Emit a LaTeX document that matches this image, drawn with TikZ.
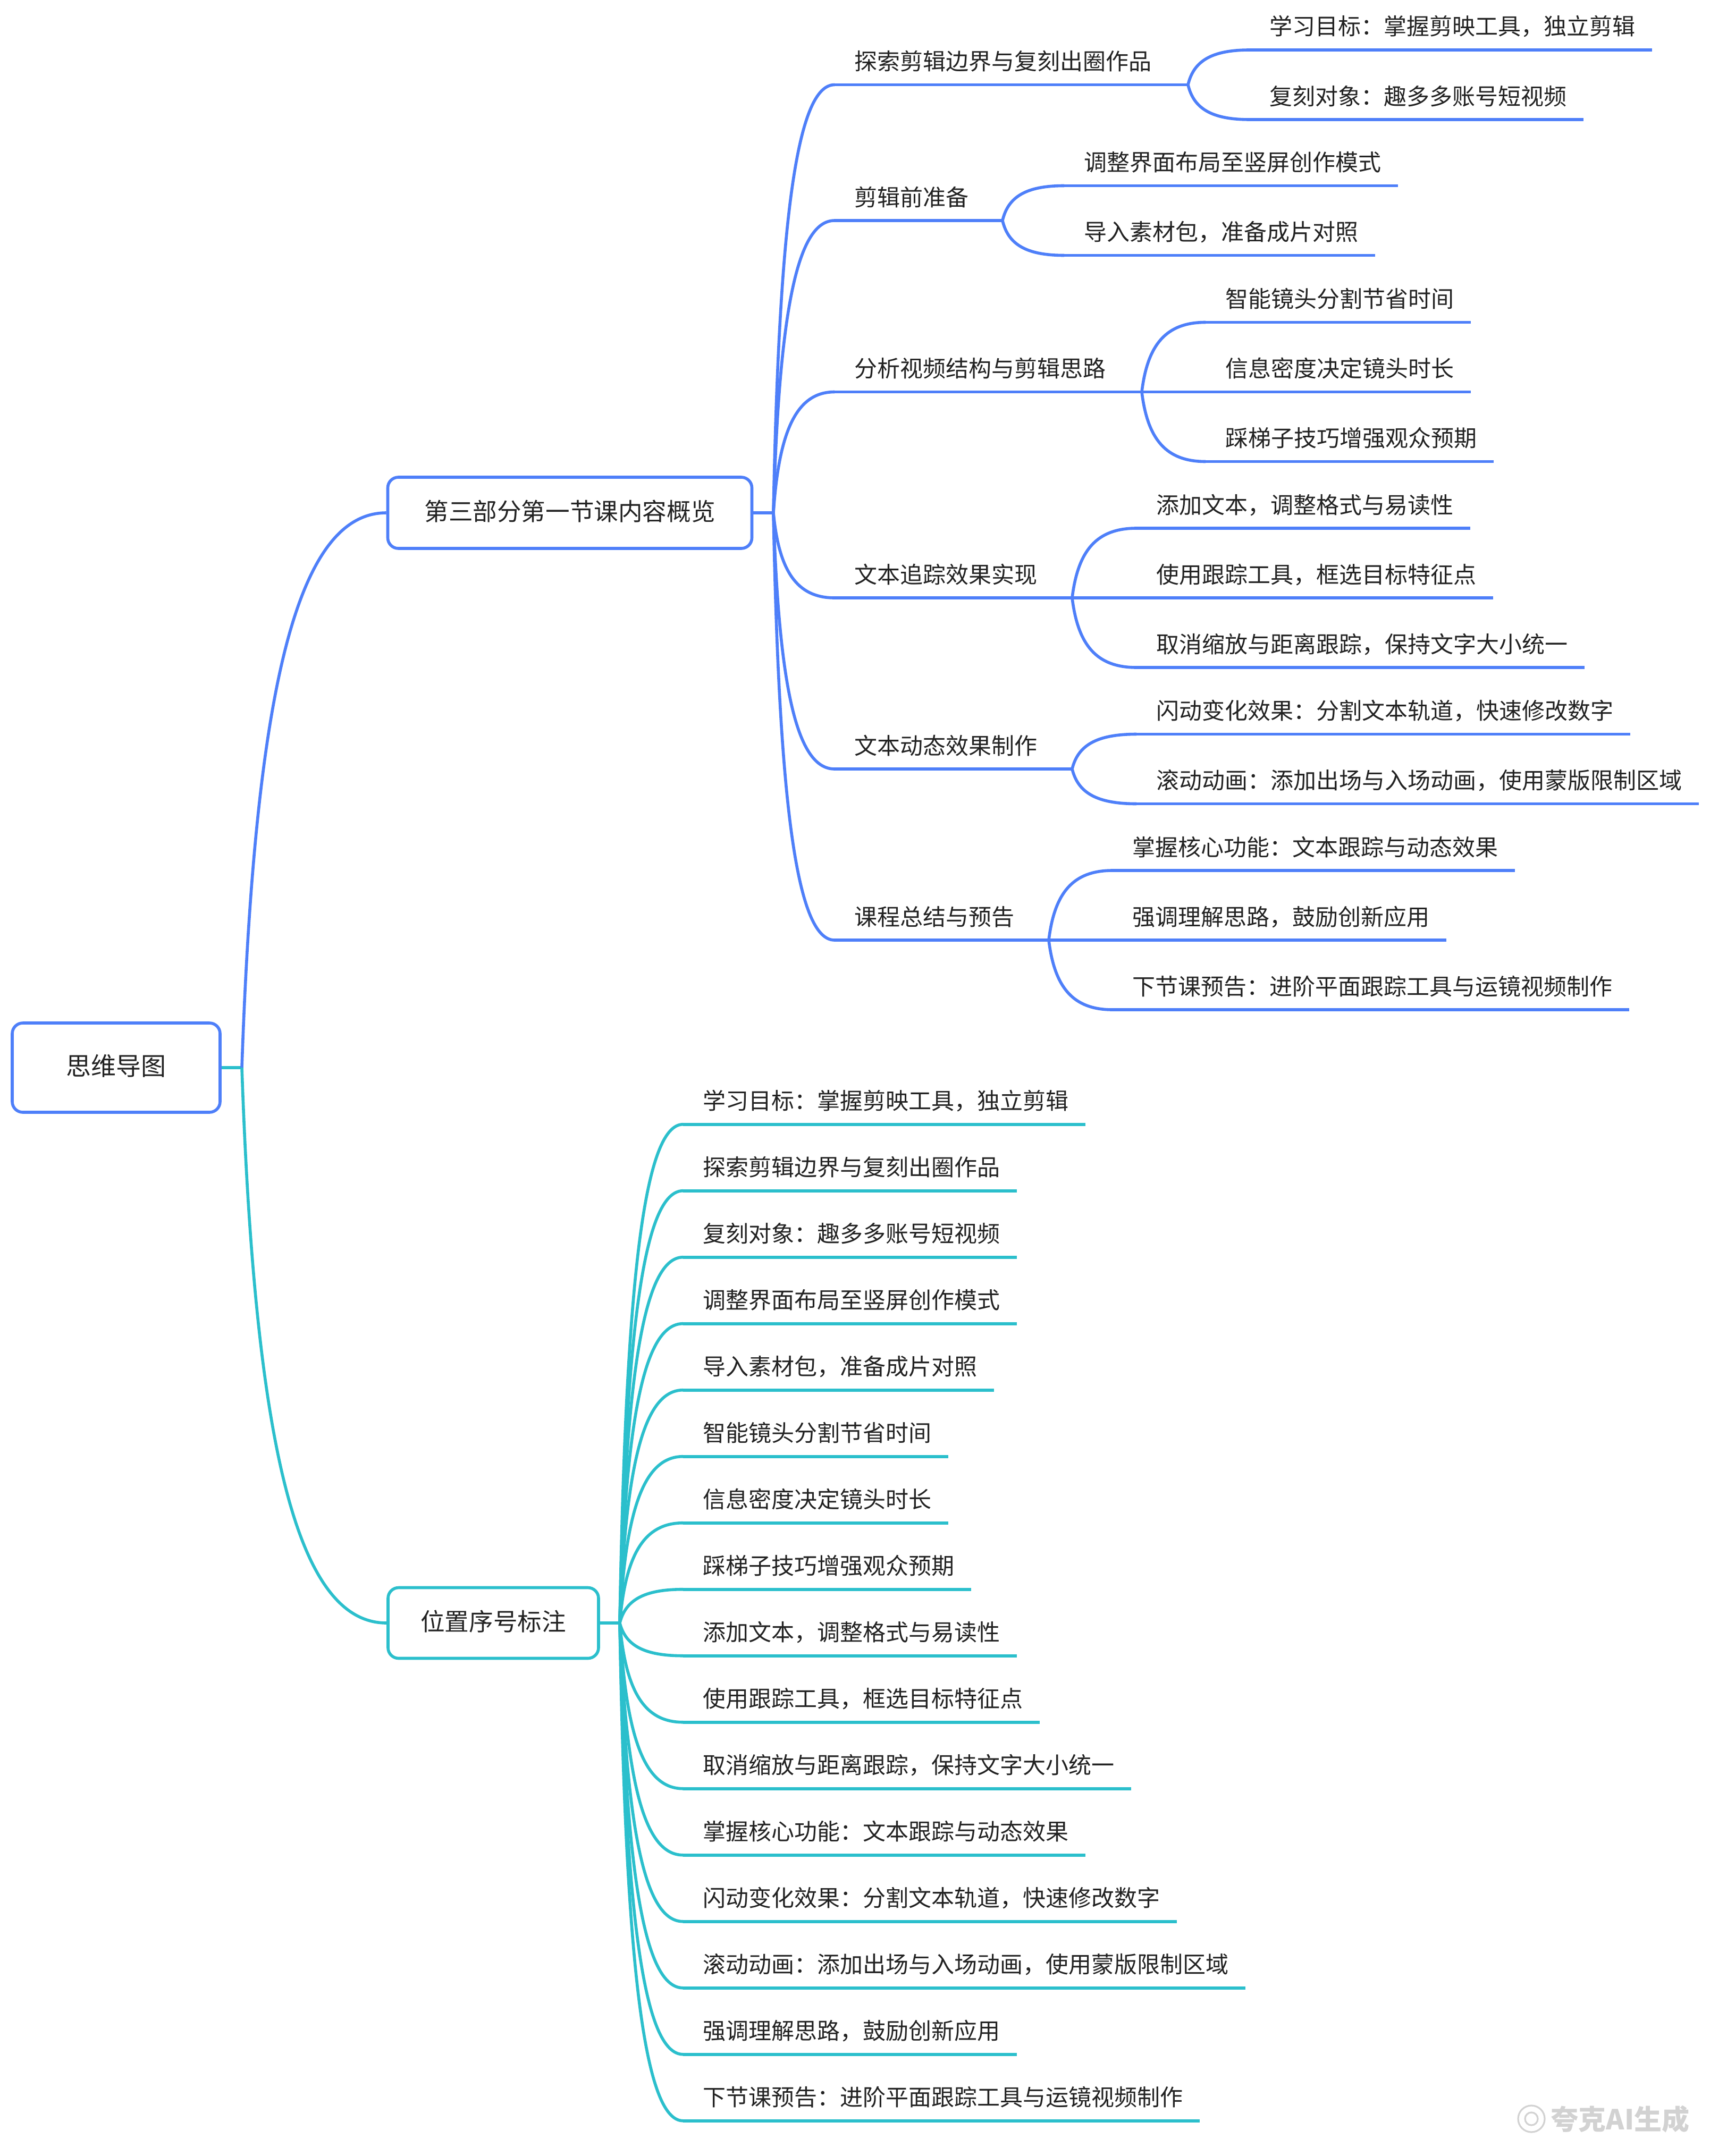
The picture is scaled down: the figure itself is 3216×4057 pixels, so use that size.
\documentclass[tikz,border=0pt]{standalone}
\usepackage{fontspec}
\setmainfont{Noto Sans CJK SC}
\usetikzlibrary{calc}
\definecolor{bluec}{HTML}{4E7FF9}
\definecolor{tealc}{HTML}{2BBFCC}
\definecolor{textc}{HTML}{222222}
\definecolor{wmc}{HTML}{D2D2D2}
\newcommand\mmcurve[3]{\draw[#1] let \p1=(#2), \p2=(#3) in (\p1) .. controls ({\x1+0.09*(\x2-\x1)},{\y2+0.32*(\y1-\y2)}) and ({\x1+0.38*(\x2-\x1)},{\y2}) .. (\p2);}
\newcommand\leafnode[4]{\node[leaf] (#1) at (#2,#3) {\kern9.25pt#4\kern7.5pt\relax};}
\begin{document}
\begin{tikzpicture}[x=0.25pt,y=-0.25pt,
  bl/.style={draw=bluec,line width=1.4pt},
  tl/.style={draw=tealc,line width=1.4pt},
  leaf/.style={anchor=south west,inner xsep=0pt,inner ysep=6.8pt,text height=8pt,text depth=0pt,font=\fontsize{10.75pt}{12pt}\selectfont,text=textc},
  box/.style={rounded corners=5pt,line width=1.4pt,fill=white,inner sep=0pt,text=textc,text height=0.8em,text depth=0.06em,font=\fontsize{11.4pt}{13pt}\selectfont},
]
\fill[white] (0,0) rectangle (3216,4057);
\useasboundingbox (0,0) rectangle (3216,4057);

% main boxes
\node[box,draw=bluec,minimum width=97.75pt,minimum height=42pt,font=\fontsize{11.75pt}{13pt}\selectfont] (root) at (218.5,2009) {思维导图};
\node[box,draw=bluec,minimum width=171.25pt,minimum height=33.5pt] (main) at (1072,965) {第三部分第一节课内容概览};
\node[box,draw=tealc,minimum width=99pt,minimum height=33.25pt] (sec) at (928,3054) {位置序号标注};

\coordinate (rh) at (455,2009);
\coordinate (mh) at (1455,965);
\coordinate (th) at (1166,3054);

\draw[tl] (root.east) -- (rh);
\mmcurve{bl}{rh}{main.west}
\mmcurve{tl}{rh}{sec.west}
\draw[bl] (main.east) -- (mh);
\draw[tl] (sec.east) -- (th);

% level 2 (blue)
\leafnode{b1}{1570}{159.5}{探索剪辑边界与复刻出圈作品}
\leafnode{b2}{1570}{415}{剪辑前准备}
\leafnode{b3}{1570}{737.5}{分析视频结构与剪辑思路}
\leafnode{b4}{1570}{1125}{文本追踪效果实现}
\leafnode{b5}{1570}{1447}{文本动态效果制作}
\leafnode{b6}{1570}{1769}{课程总结与预告}
\coordinate (h1) at (2235,159.5);
\coordinate (h2) at (1886,415);
\coordinate (h3) at (2148,737.5);
\coordinate (h4) at (2017,1125);
\coordinate (h5) at (2017,1447);
\coordinate (h6) at (1973,1769);
\foreach \k in {1,...,6}{
  \mmcurve{bl}{mh}{b\k.south west}
  \draw[bl] (b\k.south west) -- (h\k);
}

% level 3 (blue)
\leafnode{c11}{2351}{94}{学习目标：掌握剪映工具，独立剪辑}
\leafnode{c12}{2351}{225}{复刻对象：趣多多账号短视频}
\leafnode{c21}{2002}{349.5}{调整界面布局至竖屏创作模式}
\leafnode{c22}{2002}{480.5}{导入素材包，准备成片对照}
\leafnode{c31}{2268}{606.5}{智能镜头分割节省时间}
\leafnode{c32}{2268}{737.5}{信息密度决定镜头时长}
\leafnode{c33}{2268}{868.5}{踩梯子技巧增强观众预期}
\leafnode{c41}{2138}{994}{添加文本，调整格式与易读性}
\leafnode{c42}{2138}{1125}{使用跟踪工具，框选目标特征点}
\leafnode{c43}{2138}{1256}{取消缩放与距离跟踪，保持文字大小统一}
\leafnode{c51}{2138}{1381.5}{闪动变化效果：分割文本轨道，快速修改数字}
\leafnode{c52}{2138}{1512.5}{滚动动画：添加出场与入场动画，使用蒙版限制区域}
\leafnode{c61}{2093}{1638}{掌握核心功能：文本跟踪与动态效果}
\leafnode{c62}{2093}{1769}{强调理解思路，鼓励创新应用}
\leafnode{c63}{2093}{1900}{下节课预告：进阶平面跟踪工具与运镜视频制作}
\foreach \h/\c in {h1/c11,h1/c12,h2/c21,h2/c22,h3/c31,h3/c32,h3/c33,h4/c41,h4/c42,h4/c43,h5/c51,h5/c52,h6/c61,h6/c62,h6/c63}{
  \mmcurve{bl}{\h}{\c.south west}
  \draw[bl] (\c.south west) -- (\c.south east);
}

% teal branch
\foreach \txt [count=\i from 0] in {学习目标：掌握剪映工具，独立剪辑,探索剪辑边界与复刻出圈作品,复刻对象：趣多多账号短视频,调整界面布局至竖屏创作模式,导入素材包，准备成片对照,智能镜头分割节省时间,信息密度决定镜头时长,踩梯子技巧增强观众预期,添加文本，调整格式与易读性,使用跟踪工具，框选目标特征点,取消缩放与距离跟踪，保持文字大小统一,掌握核心功能：文本跟踪与动态效果,闪动变化效果：分割文本轨道，快速修改数字,滚动动画：添加出场与入场动画，使用蒙版限制区域,强调理解思路，鼓励创新应用,下节课预告：进阶平面跟踪工具与运镜视频制作}{
  \leafnode{t\i}{1285}{2115.7+125*\i}{\txt}
  \mmcurve{tl}{th}{t\i.south west}
  \draw[tl] (t\i.south west) -- (t\i.south east);
}

% watermark
\node[font=\bfseries\fontsize{13pt}{15pt}\selectfont,text=wmc,anchor=west,inner sep=0pt] (wm) at (2917,3988) {夸克AI生成};
\coordinate (wl) at (2881,3987);
\draw[wmc,line width=0.8pt] (wl) circle[radius=6.25pt];
\draw[wmc,line width=0.8pt] (wl) circle[radius=3pt];
\end{tikzpicture}
\end{document}
